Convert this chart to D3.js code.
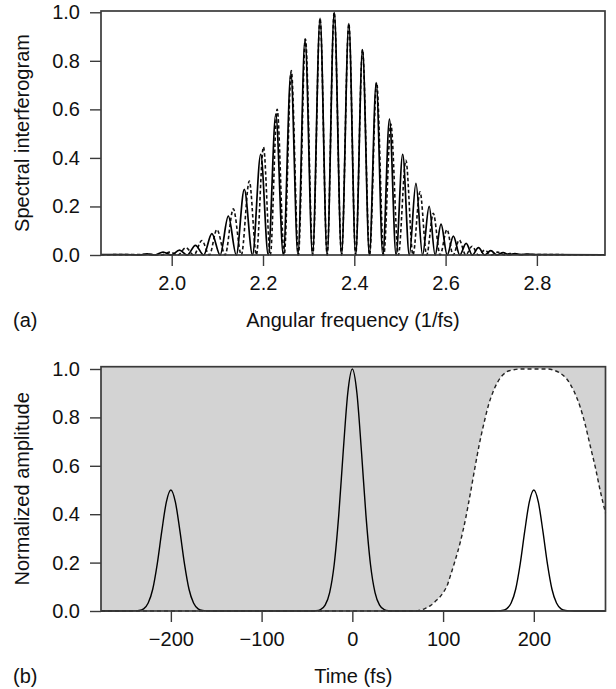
<!DOCTYPE html>
<html><head><meta charset="utf-8">
<script src="https://cdn.jsdelivr.net/npm/d3@7"></script>
<style>
body{margin:0;background:#fff}
svg{display:block}
text{font-family:"Liberation Sans",Arial,Helvetica,sans-serif;fill:#111}
</style>
</head><body><svg id="c" width="616" height="689"></svg>
<script>
// ---------- data ----------
const freqTicks = [2.0, 2.2, 2.4, 2.6, 2.8];
const ampTicks = [0.0, 0.2, 0.4, 0.6, 0.8, 1.0];
const timeTicks = [-200, -100, 0, 100, 200];

// panel (a): solid spectral interferogram (peaks and troughs)
const solidOmega = [1.845,1.90,1.93,1.946,1.963,1.981,1.999,2.017,2.034,2.052,2.070,2.088,2.106,2.124,2.1415,2.159,2.177,2.195,2.2115,2.228,2.2445,2.261,2.2765,2.292,2.3085,2.325,2.3405,2.356,2.372,2.388,2.403,2.418,2.433,2.448,2.4625,2.477,2.4915,2.506,2.5205,2.535,2.5495,2.564,2.577,2.590,2.6035,2.617,2.631,2.645,2.6585,2.672,2.6855,2.699,2.7125,2.726,2.739,2.752,2.765,2.778,2.80,2.949];
const solidValue = [0.002,0.002,0.0,0.005,0.0,0.012,0.0,0.02,0.0,0.04,0.0,0.088,0.0,0.16,0.0,0.27,0.0,0.415,0.0,0.58,0.0,0.75,0.0,0.89,0.0,0.975,0.0,1.0,0.0,0.953,0.0,0.846,0.0,0.71,0.0,0.56,0.0,0.415,0.0,0.295,0.0,0.2,0.0,0.127,0.0,0.078,0.0,0.048,0.0,0.03,0.0,0.018,0.0,0.01,0.001,0.006,0.001,0.004,0.002,0.001];

// panel (a): dashed spectral interferogram
const dashOmega = [1.845,1.95,1.978,1.996,2.0135,2.031,2.0485,2.066,2.0825,2.099,2.117,2.135,2.1525,2.170,2.1855,2.201,2.216,2.231,2.2465,2.262,2.2775,2.293,2.309,2.325,2.3405,2.356,2.372,2.388,2.403,2.418,2.4335,2.449,2.4645,2.480,2.4965,2.513,2.5285,2.544,2.5585,2.573,2.588,2.603,2.6165,2.630,2.644,2.658,2.672,2.686,2.700,2.714,2.7275,2.741,2.77,2.949];
const dashValue = [0.001,0.002,0.0,0.012,0.0,0.03,0.0,0.06,0.0,0.105,0.0,0.19,0.0,0.305,0.0,0.445,0.0,0.60,0.0,0.76,0.0,0.89,0.0,0.975,0.0,1.0,0.0,0.953,0.0,0.846,0.0,0.71,0.0,0.54,0.0,0.39,0.0,0.26,0.0,0.172,0.0,0.105,0.0,0.062,0.0,0.036,0.0,0.02,0.0,0.012,0.001,0.006,0.002,0.001];

// panel (b): three pulses (solid)
const pulseTime = [-277,-250,-245,-240,-235,-230,-225,-220,-215,-210,-205,-200,-195,-190,-185,-180,-175,-170,-165,-160,-155,-150,
  -50,-45,-40,-35,-30,-25,-20,-15,-10,-5,0,5,10,15,20,25,30,35,40,45,50,
  150,155,160,165,170,175,180,185,190,195,200,205,210,215,220,225,230,235,240,245,250,279];
const pulseValue = [0,0,0,0.0005,0.002,0.009,0.033,0.09,0.195,0.33,0.45,0.5,0.45,0.33,0.195,0.09,0.033,0.009,0.002,0.0005,0,0,
  0,0,0.001,0.006,0.024,0.076,0.192,0.395,0.662,0.902,1.0,0.902,0.662,0.395,0.192,0.076,0.024,0.006,0.001,0,0,
  0,0,0.0005,0.002,0.009,0.033,0.09,0.195,0.33,0.45,0.5,0.45,0.33,0.195,0.09,0.033,0.009,0.002,0.0005,0,0,0];

// panel (b): time window (dashed), grey outside it
const windowTime = [-277,60,70,75,80,86,93,100,105,108,113,119,125,130,135,140,145,150,155,160,165,170,178,185,215,222,228,236,244,251,257,262,268,273,279];
const windowValue = [0,0,0.001,0.004,0.01,0.022,0.045,0.075,0.11,0.145,0.205,0.285,0.385,0.485,0.59,0.69,0.775,0.85,0.905,0.945,0.972,0.988,0.997,1.0,1.0,0.995,0.985,0.96,0.91,0.844,0.765,0.685,0.59,0.5,0.405];

// ---------- drawing ----------
const svg = d3.select("#c");
const FRAME = "#3a3a3a";
const FS = 20;

function styleAxis(g){
  g.select(".domain").remove();
  g.selectAll(".tick line").attr("stroke", FRAME).attr("stroke-width", 1.4);
  g.selectAll(".tick text").attr("font-size", FS).attr("fill", "#111")
    .attr("font-family", '"Liberation Sans",Arial,sans-serif');
}

function panel(opt){
  const x = d3.scaleLinear().domain(opt.xDomain).range([opt.left, opt.right]);
  const y = d3.scaleLinear().domain(opt.yDomain).range([opt.bottom, opt.top]);
  const g = svg.append("g");
  opt.draw(g, x, y);
  g.append("rect").attr("x", opt.left).attr("y", opt.top)
    .attr("width", opt.right - opt.left).attr("height", opt.bottom - opt.top)
    .attr("fill", "none").attr("stroke", FRAME).attr("stroke-width", 1.7);
  g.append("g").attr("transform", `translate(0,${opt.bottom})`)
    .call(d3.axisBottom(x).tickValues(opt.xTicks).tickSize(11).tickPadding(10).tickFormat(opt.xFormat))
    .call(styleAxis);
  g.append("g").attr("transform", `translate(${opt.left},0)`)
    .call(d3.axisLeft(y).tickValues(ampTicks).tickSize(11).tickPadding(10).tickFormat(d3.format(".1f")))
    .call(styleAxis);
  g.append("text").attr("x", (opt.left + opt.right) / 2).attr("y", opt.bottom + 72)
    .attr("text-anchor", "middle").attr("font-size", FS).text(opt.xTitle);
  g.append("text").attr("x", 13).attr("y", opt.bottom + 72).attr("font-size", FS).text(opt.tag);
  g.append("text").attr("transform", `translate(29,${(opt.top + opt.bottom) / 2}) rotate(-90)`)
    .attr("text-anchor", "middle").attr("font-size", FS).text(opt.yTitle);
}

const minus = d => (d < 0 ? "\u2212" + Math.abs(d) : "" + d);

panel({
  left: 101, right: 605, top: 11, bottom: 255,
  xDomain: [1.8451, 2.9492], yDomain: [0, 1.0053],
  xTicks: freqTicks, xFormat: d3.format(".1f"),
  xTitle: "Angular frequency (1/fs)", yTitle: "Spectral interferogram", tag: "(a)",
  draw(g, x, y){
    const line = d3.line().x(d => x(d[0])).y(d => y(d[1])).curve(d3.curveMonotoneX);
    const dash = dashOmega.map((w, i) => [w, dashValue[i]]);
    const solid = solidOmega.map((w, i) => [w, solidValue[i]]);
    g.append("path").attr("d", line(dash)).attr("fill", "none")
      .attr("stroke", "#111").attr("stroke-width", 1.6).attr("stroke-dasharray", "3.5,2.5");
    g.append("path").attr("d", line(solid)).attr("fill", "none")
      .attr("stroke", "#000").attr("stroke-width", 1.7);
  }
});

panel({
  left: 101, right: 605.5, top: 366.7, bottom: 611,
  xDomain: [-277, 279], yDomain: [0, 1.0095],
  xTicks: timeTicks, xFormat: minus,
  xTitle: "Time (fs)", yTitle: "Normalized amplitude", tag: "(b)",
  draw(g, x, y){
    const win = windowTime.map((t, i) => [t, windowValue[i]]);
    const pul = pulseTime.map((t, i) => [t, pulseValue[i]]);
    const area = d3.area().x(d => x(d[0])).y0(y.range()[1]).y1(d => y(d[1])).curve(d3.curveMonotoneX);
    g.append("path").attr("d", area(win)).attr("fill", "#d3d3d3");
    const line = d3.line().x(d => x(d[0])).y(d => y(d[1])).curve(d3.curveMonotoneX);
    g.append("path").attr("d", line(win)).attr("fill", "none")
      .attr("stroke", "#222").attr("stroke-width", 1.4).attr("stroke-dasharray", "4,3");
    g.append("path").attr("d", line(pul)).attr("fill", "none")
      .attr("stroke", "#000").attr("stroke-width", 1.4);
  }
});
</script>
</body></html>
